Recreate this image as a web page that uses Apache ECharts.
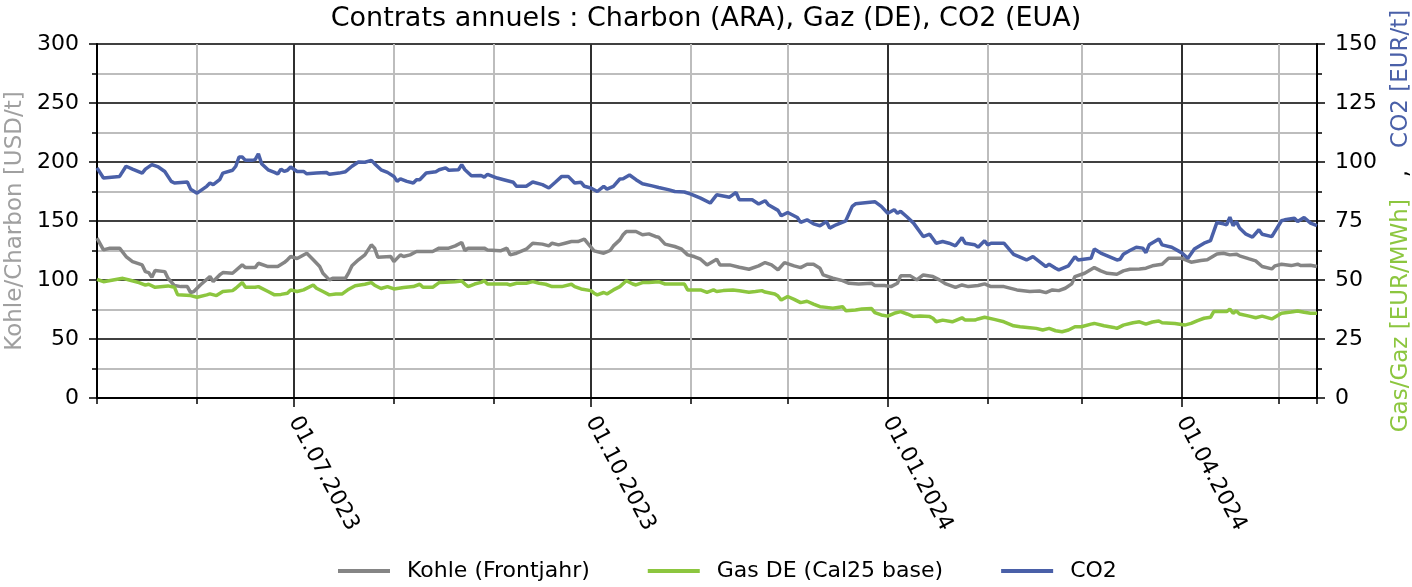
<!DOCTYPE html>
<html>
<head>
<meta charset="utf-8">
<script src="https://cdn.jsdelivr.net/npm/echarts@6/dist/echarts.min.js"></script>
<style>
html,body{margin:0;padding:0;background:#fff;}
#chart{width:1412px;height:587px;}
</style>
</head>
<body>
<div id="chart"></div>
<script>
// ---------- DATA ----------
const chartTitle = 'Contrats annuels : Charbon (ARA), Gaz (DE), CO2 (EUA)';
const seriesNames = ['Kohle (Frontjahr)', 'Gas DE (Cal25 base)', 'CO2'];
const leftAxisName = 'Kohle/Charbon [USD/t]';
const rightAxisNameGas = 'Gas/Gaz [EUR/MWh]';
const rightAxisNameCO2 = 'CO2 [EUR/t]';
const xMin = '2023-05-01';
const xMax = '2024-05-13';

const coalDates = ['2023-05-01','2023-05-03','2023-05-05','2023-05-08','2023-05-10','2023-05-12','2023-05-15','2023-05-16','2023-05-17','2023-05-18','2023-05-19','2023-05-22','2023-05-23','2023-05-25','2023-05-27','2023-05-29','2023-05-30','2023-05-31','2023-06-02','2023-06-05','2023-06-06','2023-06-08','2023-06-09','2023-06-12','2023-06-15','2023-06-16','2023-06-19','2023-06-20','2023-06-23','2023-06-26','2023-06-28','2023-06-29','2023-06-30','2023-07-02','2023-07-05','2023-07-07','2023-07-09','2023-07-10','2023-07-12','2023-07-13','2023-07-17','2023-07-18','2023-07-19','2023-07-21','2023-07-23','2023-07-25','2023-07-26','2023-07-27','2023-07-31','2023-08-01','2023-08-03','2023-08-04','2023-08-06','2023-08-08','2023-08-13','2023-08-15','2023-08-18','2023-08-20','2023-08-22','2023-08-23','2023-08-24','2023-08-29','2023-08-30','2023-09-03','2023-09-05','2023-09-06','2023-09-08','2023-09-11','2023-09-13','2023-09-16','2023-09-18','2023-09-19','2023-09-21','2023-09-23','2023-09-25','2023-09-27','2023-09-29','2023-09-30','2023-10-02','2023-10-05','2023-10-07','2023-10-08','2023-10-10','2023-10-11','2023-10-12','2023-10-15','2023-10-17','2023-10-19','2023-10-21','2023-10-22','2023-10-24','2023-10-27','2023-10-29','2023-10-31','2023-11-02','2023-11-04','2023-11-06','2023-11-09','2023-11-10','2023-11-13','2023-11-16','2023-11-19','2023-11-22','2023-11-24','2023-11-26','2023-11-28','2023-11-30','2023-12-03','2023-12-05','2023-12-07','2023-12-09','2023-12-11','2023-12-12','2023-12-15','2023-12-18','2023-12-20','2023-12-23','2023-12-27','2023-12-28','2023-12-31','2024-01-02','2024-01-04','2024-01-05','2024-01-08','2024-01-10','2024-01-12','2024-01-15','2024-01-17','2024-01-19','2024-01-22','2024-01-24','2024-01-26','2024-01-29','2024-01-31','2024-02-02','2024-02-06','2024-02-10','2024-02-14','2024-02-17','2024-02-19','2024-02-21','2024-02-23','2024-02-25','2024-02-27','2024-02-28','2024-03-02','2024-03-05','2024-03-07','2024-03-09','2024-03-12','2024-03-14','2024-03-16','2024-03-19','2024-03-21','2024-03-23','2024-03-26','2024-03-28','2024-04-01','2024-04-04','2024-04-07','2024-04-09','2024-04-12','2024-04-14','2024-04-16','2024-04-18','2024-04-19','2024-04-22','2024-04-24','2024-04-26','2024-04-29','2024-04-30','2024-05-02','2024-05-05','2024-05-07','2024-05-08','2024-05-11','2024-05-13'];
const coalValues = [135.5,125.5,127.0,127.0,119.9,115.6,112.8,107.1,106.3,102.3,108.0,107.1,101.5,95.3,94.4,94.4,89.3,90.2,95.8,102.9,98.7,104.3,106.3,105.7,112.8,110.5,110.5,114.2,111.4,111.4,114.8,117.1,119.9,118.2,122.7,117.1,111.4,105.7,100.1,101.5,101.5,106.3,112.0,117.1,121.3,129.8,127.0,119.3,119.9,115.6,121.3,119.9,121.3,124.1,124.1,127.0,127.0,128.9,131.8,125.0,127.0,127.0,125.5,124.7,127.0,121.3,122.7,126.1,131.2,130.4,128.9,131.2,129.8,131.2,132.6,132.6,134.6,131.2,124.7,122.7,125.0,128.9,134.0,138.3,141.1,141.1,138.3,139.1,136.9,136.3,130.4,128.4,126.4,121.3,119.9,117.6,112.8,117.6,112.8,112.8,110.8,109.1,112.0,114.8,112.8,108.6,114.8,112.0,110.5,113.4,113.4,110.0,104.3,101.5,99.5,97.2,96.7,97.2,95.3,95.3,94.4,97.2,103.5,103.5,100.1,104.3,102.9,100.1,96.7,93.8,95.8,94.4,95.3,96.7,94.4,94.4,91.6,90.2,90.7,89.3,91.6,91.0,93.0,96.7,102.9,105.7,110.5,107.7,105.7,104.9,107.7,109.1,109.4,110.0,112.0,113.4,118.5,118.5,115.1,116.5,117.1,122.1,122.7,121.3,121.9,120.5,117.9,116.2,111.4,109.4,112.0,113.4,112.2,113.4,112.2,112.5,111.4];

const gasDates = ['2023-05-01','2023-05-03','2023-05-06','2023-05-09','2023-05-11','2023-05-14','2023-05-16','2023-05-17','2023-05-19','2023-05-23','2023-05-25','2023-05-26','2023-05-30','2023-06-01','2023-06-04','2023-06-05','2023-06-07','2023-06-09','2023-06-12','2023-06-13','2023-06-15','2023-06-16','2023-06-19','2023-06-20','2023-06-23','2023-06-25','2023-06-27','2023-06-29','2023-06-30','2023-07-02','2023-07-04','2023-07-07','2023-07-08','2023-07-10','2023-07-12','2023-07-14','2023-07-16','2023-07-18','2023-07-20','2023-07-23','2023-07-25','2023-07-26','2023-07-28','2023-07-30','2023-08-01','2023-08-04','2023-08-07','2023-08-09','2023-08-10','2023-08-13','2023-08-15','2023-08-17','2023-08-20','2023-08-22','2023-08-23','2023-08-24','2023-08-26','2023-08-28','2023-08-29','2023-08-30','2023-09-02','2023-09-05','2023-09-06','2023-09-08','2023-09-11','2023-09-13','2023-09-15','2023-09-17','2023-09-19','2023-09-22','2023-09-25','2023-09-26','2023-09-28','2023-10-01','2023-10-02','2023-10-03','2023-10-05','2023-10-06','2023-10-08','2023-10-10','2023-10-12','2023-10-14','2023-10-15','2023-10-17','2023-10-19','2023-10-22','2023-10-24','2023-10-26','2023-10-30','2023-10-31','2023-11-02','2023-11-04','2023-11-06','2023-11-08','2023-11-09','2023-11-11','2023-11-14','2023-11-16','2023-11-19','2023-11-21','2023-11-23','2023-11-24','2023-11-27','2023-11-28','2023-11-29','2023-12-01','2023-12-03','2023-12-05','2023-12-07','2023-12-09','2023-12-11','2023-12-13','2023-12-15','2023-12-18','2023-12-19','2023-12-22','2023-12-24','2023-12-27','2023-12-28','2023-12-30','2024-01-01','2024-01-03','2024-01-05','2024-01-07','2024-01-09','2024-01-11','2024-01-14','2024-01-15','2024-01-16','2024-01-18','2024-01-21','2024-01-24','2024-01-25','2024-01-28','2024-01-29','2024-01-31','2024-02-03','2024-02-06','2024-02-09','2024-02-11','2024-02-14','2024-02-16','2024-02-18','2024-02-20','2024-02-22','2024-02-24','2024-02-26','2024-02-28','2024-03-01','2024-03-04','2024-03-05','2024-03-08','2024-03-11','2024-03-12','2024-03-14','2024-03-17','2024-03-19','2024-03-21','2024-03-23','2024-03-25','2024-03-26','2024-03-30','2024-04-02','2024-04-04','2024-04-06','2024-04-08','2024-04-10','2024-04-11','2024-04-15','2024-04-16','2024-04-17','2024-04-18','2024-04-19','2024-04-22','2024-04-24','2024-04-26','2024-04-29','2024-05-02','2024-05-05','2024-05-07','2024-05-09','2024-05-11','2024-05-13'];
const gasValues = [50.3,49.3,50.0,50.7,50.0,48.9,47.8,48.2,46.9,47.5,46.9,43.7,43.4,42.7,43.7,44.1,43.4,45.1,45.5,46.5,48.9,46.9,46.9,47.2,45.1,43.7,43.9,44.4,45.8,45.1,45.8,47.9,46.5,45.1,43.7,44.1,44.1,46.1,47.6,48.2,48.9,47.8,46.4,47.2,46.2,46.8,47.2,48.2,46.9,46.9,48.9,49.0,49.3,49.6,48.3,47.2,48.3,49.0,49.7,48.3,48.3,48.3,47.9,48.6,48.6,49.3,48.6,48.2,47.2,47.2,48.2,47.2,46.2,45.5,44.4,43.7,44.7,44.1,45.8,47.2,49.7,48.3,47.9,48.9,48.9,49.3,48.3,48.3,48.3,45.8,45.8,45.8,44.8,45.8,45.1,45.5,45.8,45.4,44.8,45.1,45.5,44.9,44.1,43.2,41.5,43.0,41.8,40.4,41.0,39.8,38.7,38.4,38.0,38.7,37.0,37.3,37.7,37.9,36.2,35.2,34.7,35.9,36.6,35.6,34.5,34.7,34.5,33.8,32.3,33.0,32.3,34.0,33.0,33.0,33.5,34.2,33.3,32.3,30.6,30.2,29.8,29.5,28.8,29.5,28.5,28.1,28.8,30.2,30.2,31.3,31.6,30.6,29.9,29.5,30.9,31.9,32.3,31.3,32.2,32.6,31.9,31.6,30.9,31.6,32.8,33.8,34.2,36.6,36.6,37.7,35.9,36.9,35.6,34.7,34.0,34.7,33.5,35.9,36.4,36.9,36.3,35.9,35.9];

const co2Dates = ['2023-05-01','2023-05-03','2023-05-08','2023-05-10','2023-05-12','2023-05-15','2023-05-16','2023-05-18','2023-05-20','2023-05-22','2023-05-24','2023-05-25','2023-05-29','2023-05-30','2023-06-01','2023-06-04','2023-06-05','2023-06-06','2023-06-08','2023-06-09','2023-06-12','2023-06-13','2023-06-14','2023-06-15','2023-06-16','2023-06-18','2023-06-19','2023-06-20','2023-06-21','2023-06-23','2023-06-25','2023-06-26','2023-06-27','2023-06-28','2023-06-29','2023-06-30','2023-07-02','2023-07-04','2023-07-05','2023-07-08','2023-07-11','2023-07-12','2023-07-15','2023-07-17','2023-07-19','2023-07-21','2023-07-23','2023-07-25','2023-07-26','2023-07-28','2023-07-30','2023-08-01','2023-08-02','2023-08-03','2023-08-05','2023-08-07','2023-08-08','2023-08-09','2023-08-11','2023-08-14','2023-08-15','2023-08-17','2023-08-18','2023-08-21','2023-08-22','2023-08-23','2023-08-25','2023-08-28','2023-08-29','2023-08-30','2023-09-02','2023-09-04','2023-09-07','2023-09-08','2023-09-11','2023-09-13','2023-09-16','2023-09-18','2023-09-20','2023-09-22','2023-09-24','2023-09-26','2023-09-28','2023-09-29','2023-10-01','2023-10-03','2023-10-05','2023-10-06','2023-10-08','2023-10-10','2023-10-11','2023-10-13','2023-10-15','2023-10-17','2023-10-20','2023-10-22','2023-10-25','2023-10-27','2023-10-30','2023-11-01','2023-11-04','2023-11-07','2023-11-09','2023-11-13','2023-11-15','2023-11-16','2023-11-20','2023-11-22','2023-11-24','2023-11-25','2023-11-28','2023-11-29','2023-12-01','2023-12-04','2023-12-05','2023-12-07','2023-12-09','2023-12-11','2023-12-13','2023-12-14','2023-12-16','2023-12-19','2023-12-21','2023-12-22','2023-12-28','2023-12-30','2024-01-01','2024-01-03','2024-01-04','2024-01-05','2024-01-07','2024-01-09','2024-01-12','2024-01-14','2024-01-16','2024-01-18','2024-01-20','2024-01-22','2024-01-24','2024-01-25','2024-01-28','2024-01-29','2024-01-31','2024-02-01','2024-02-02','2024-02-06','2024-02-09','2024-02-13','2024-02-15','2024-02-17','2024-02-19','2024-02-20','2024-02-22','2024-02-23','2024-02-26','2024-02-28','2024-02-29','2024-03-04','2024-03-05','2024-03-07','2024-03-12','2024-03-13','2024-03-14','2024-03-16','2024-03-18','2024-03-20','2024-03-21','2024-03-22','2024-03-25','2024-03-26','2024-03-29','2024-04-01','2024-04-03','2024-04-05','2024-04-08','2024-04-10','2024-04-12','2024-04-14','2024-04-15','2024-04-16','2024-04-17','2024-04-18','2024-04-19','2024-04-21','2024-04-23','2024-04-25','2024-04-26','2024-04-29','2024-05-02','2024-05-03','2024-05-06','2024-05-07','2024-05-09','2024-05-11','2024-05-13'];
const co2Values = [97.5,93.2,93.9,98.2,97.0,95.3,97.0,98.9,97.9,96.0,91.8,91.1,91.5,88.5,86.8,89.7,91.1,90.4,92.5,95.3,96.5,98.2,102.1,102.1,100.7,100.7,101.0,103.5,99.3,96.7,95.6,94.9,97.0,96.0,96.5,97.9,96.0,96.0,95.0,95.3,95.6,94.8,95.3,95.9,98.2,100.0,99.9,100.7,99.3,96.7,95.6,93.9,91.8,92.9,91.8,91.1,92.5,92.5,95.3,95.9,96.7,97.5,96.5,96.7,98.9,96.7,94.2,94.3,93.6,94.8,93.2,92.5,91.4,89.7,89.7,91.5,90.4,89.0,91.4,93.9,93.9,91.1,91.4,89.7,89.0,87.5,89.7,88.5,89.7,92.8,92.9,94.5,92.5,90.8,89.9,89.2,88.3,87.5,87.3,86.4,84.7,82.6,86.1,85.1,87.1,84.0,84.0,82.2,83.6,81.9,79.5,77.2,78.6,76.5,74.4,75.5,73.8,73.0,74.8,72.0,73.4,75.1,81.2,82.3,83.2,81.2,78.3,79.8,78.3,79.1,76.7,74.1,68.4,69.4,65.6,66.3,65.6,64.5,68.0,65.6,64.9,63.9,66.6,64.9,65.6,65.6,60.9,58.5,59.9,57.8,55.7,56.7,55.0,54.3,56.0,59.9,58.5,59.2,63.1,61.4,58.5,58.8,60.9,62.5,63.9,63.5,61.6,64.9,67.4,64.9,63.9,61.6,59.2,63.1,65.6,66.7,74.4,73.8,73.4,76.6,73.0,74.8,72.0,69.4,68.2,71.3,69.4,68.4,75.1,75.5,76.2,74.8,76.5,74.1,73.0];

const leftAxis = { min: 0, max: 300, interval: 50 };
const rightAxis = { min: 0, max: 150, interval: 25 };

// ---------- STYLE ----------
const FONT = 'DejaVu Sans';
const C_COAL = '#858585';
const C_GAS = '#8cc63f';
const C_CO2 = '#4a60a8';
const C_GRID_MAJOR = '#000000';
const C_GRID_MINOR = '#bdbdbd';
const DAY = 24 * 3600 * 1000;

function pad(n) { return (n < 10 ? '0' : '') + n; }
function quarterLabel(v) {
  const d = new Date(v);
  if (d.getDate() !== 1 || d.getMonth() % 3 !== 0) return '';
  return pad(d.getDate()) + '.' + pad(d.getMonth() + 1) + '.' + d.getFullYear();
}
function pairs(dates, values) { return dates.map((d, i) => [d, values[i]]); }

const chart = echarts.init(document.getElementById('chart'), null, { renderer: 'canvas' });
chart.setOption({
  animation: false,
  backgroundColor: '#ffffff',
  textStyle: { fontFamily: FONT },
  title: {
    text: chartTitle,
    left: 'center',
    top: 0,
    textStyle: { fontFamily: FONT, fontSize: 27, fontWeight: 'normal', color: '#000' }
  },
  legend: {
    data: seriesNames,
    left: 333,
    top: 555,
    icon: 'rect',
    itemWidth: 52,
    itemHeight: 4,
    itemGap: 58,
    textStyle: { fontFamily: FONT, fontSize: 22, color: '#000', padding: [0, 0, 0, 12] }
  },
  grid: { left: 97, right: 95, top: 44, bottom: 189, containLabel: false, outerBoundsMode: 'none' },
  xAxis: [
    {
      // monthly grid (minor)
      type: 'time', min: xMin, max: xMax, position: 'bottom',
      minInterval: 30 * DAY, maxInterval: 30 * DAY,
      axisLine: { show: false },
      axisTick: { show: true, length: 6, lineStyle: { color: '#000', width: 1.5 } },
      axisLabel: { show: false },
      splitLine: { show: true, lineStyle: { color: C_GRID_MINOR, width: 2 } }
    },
    {
      // quarterly grid (major) with labels
      type: 'time', min: xMin, max: xMax, position: 'bottom',
      minInterval: 100 * DAY, maxInterval: 100 * DAY,
      axisLine: { show: true, lineStyle: { color: '#000', width: 2 } },
      axisTick: { show: true, length: 9, lineStyle: { color: '#000', width: 1.5 } },
      axisLabel: {
        show: true, rotate: -62, margin: 20, color: '#000',
        fontFamily: FONT, fontSize: 22, formatter: quarterLabel,
        showMinLabel: false, showMaxLabel: false, hideOverlap: false
      },
      splitLine: { show: true, lineStyle: { color: C_GRID_MAJOR, width: 1.5 } }
    }
  ],
  yAxis: [
    {
      type: 'value', position: 'left',
      min: leftAxis.min, max: leftAxis.max, interval: leftAxis.interval,
      name: leftAxisName, nameLocation: 'middle', nameGap: 67,
      nameTextStyle: { fontFamily: FONT, fontSize: 23, color: '#a0a0a0' },
      axisLine: { show: true, lineStyle: { color: '#000', width: 2 } },
      axisTick: { show: true, length: 8, lineStyle: { color: '#000', width: 1.5 } },
      minorTick: { show: true, splitNumber: 2, length: 5, lineStyle: { color: '#000', width: 1.5 } },
      axisLabel: { margin: 18, color: '#000', fontFamily: FONT, fontSize: 22 },
      splitLine: { show: true, lineStyle: { color: C_GRID_MAJOR, width: 1.5 } },
      minorSplitLine: { show: true, lineStyle: { color: C_GRID_MINOR, width: 2 } }
    },
    {
      type: 'value', position: 'right',
      min: rightAxis.min, max: rightAxis.max, interval: rightAxis.interval,
      name: '{g|' + rightAxisNameGas + '}{k|   ,   }{b|' + rightAxisNameCO2 + '}',
      nameLocation: 'middle', nameGap: 73,
      nameTextStyle: {
        fontFamily: FONT, fontSize: 23,
        rich: {
          g: { fontFamily: FONT, fontSize: 23, color: C_GAS },
          k: { fontFamily: FONT, fontSize: 23, color: '#000' },
          b: { fontFamily: FONT, fontSize: 23, color: C_CO2 }
        }
      },
      axisLine: { show: true, lineStyle: { color: '#000', width: 2 } },
      axisTick: { show: true, length: 8, lineStyle: { color: '#000', width: 1.5 } },
      minorTick: { show: true, splitNumber: 2, length: 5, lineStyle: { color: '#000', width: 1.5 } },
      axisLabel: { margin: 18, color: '#000', fontFamily: FONT, fontSize: 22 },
      splitLine: { show: false }
    }
  ],
  series: [
    {
      name: seriesNames[0], type: 'line', xAxisIndex: 1, yAxisIndex: 0,
      data: pairs(coalDates, coalValues), showSymbol: false, symbol: 'none',
      lineStyle: { color: C_COAL, width: 3.5 }, itemStyle: { color: C_COAL }
    },
    {
      name: seriesNames[1], type: 'line', xAxisIndex: 1, yAxisIndex: 1,
      data: pairs(gasDates, gasValues), showSymbol: false, symbol: 'none',
      lineStyle: { color: C_GAS, width: 3.5 }, itemStyle: { color: C_GAS }
    },
    {
      name: seriesNames[2], type: 'line', xAxisIndex: 1, yAxisIndex: 1,
      data: pairs(co2Dates, co2Values), showSymbol: false, symbol: 'none',
      lineStyle: { color: C_CO2, width: 3.5 }, itemStyle: { color: C_CO2 }
    }
  ]
});
</script>
</body>
</html>
